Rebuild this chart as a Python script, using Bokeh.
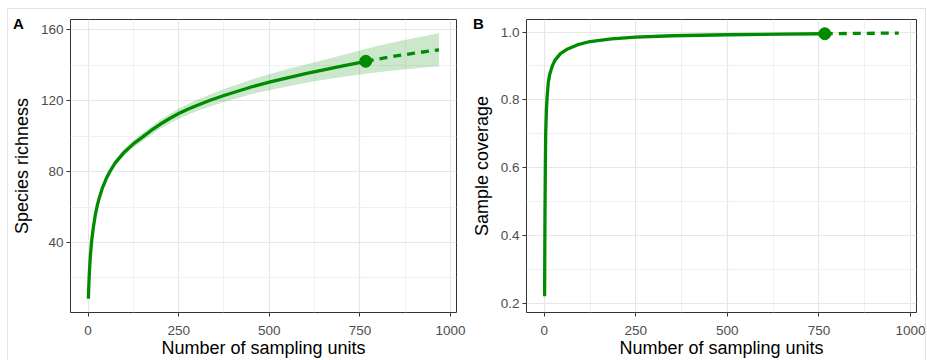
from bokeh.plotting import figure
from bokeh.layouts import row
from bokeh.models import Range1d, FixedTicker, PrintfTickFormatter, Div
from bokeh.embed import file_html
from bokeh.resources import INLINE

# ---------------- data: panel A (species richness) ----------------
units_obs_a = [1, 2, 3, 5, 7, 10, 15, 20, 25, 30, 40, 50, 60, 75, 100, 125, 150, 175,
               200, 225, 250, 275, 300, 335, 375, 450, 500, 550, 600, 650, 700, 766]
richness_obs = [8.3, 15, 20, 28, 34, 41, 49, 55.5, 60.5, 64.5, 71, 76, 80, 85, 91,
                95.7, 99.5, 103.4, 106.9, 110.0, 112.8, 115.2, 117.4, 120.2, 123.0,
                127.8, 130.5, 133.0, 135.3, 137.5, 139.6, 142.3]
units_ext_a = [766, 800, 850, 900, 968]
richness_ext = [142.3, 143.6, 145.3, 146.9, 148.8]
band_units_a = [1, 2, 3, 5, 7, 10, 15, 20, 25, 30, 40, 50, 60, 75, 100, 125, 150,
                200, 250, 300, 375, 450, 500, 550, 625, 700, 766, 800, 850, 900, 968]
richness_lo = [8.0, 14.6, 19.5, 27.4, 33.3, 40.2, 48.1, 54.5, 59.4, 63.3, 69.7, 74.6,
               78.5, 83.3, 89.1, 93.6, 97.2, 104.3, 109.9, 114.2, 119.3, 123.7, 126.0,
               128.1, 131.0, 133.5, 135.3, 136.1, 137.3, 138.3, 139.5]
richness_hi = [8.6, 15.4, 20.5, 28.6, 34.7, 41.8, 49.9, 56.5, 61.6, 65.7, 72.3, 77.4,
               81.5, 86.7, 92.9, 97.8, 101.8, 109.5, 115.7, 120.6, 126.7, 131.9, 135.0,
               137.9, 141.8, 145.7, 149.3, 151.1, 153.3, 155.5, 158.1]
ref_point_a = ([766], [142.3])

# ---------------- data: panel B (sample coverage) ----------------
units_obs_b = [1, 2, 3, 4, 6, 8, 11, 15, 22, 30, 45, 64, 90, 125, 184, 250, 350, 500, 650, 766]
coverage_obs = [0.22, 0.45, 0.60, 0.70, 0.77, 0.81, 0.85, 0.875, 0.90, 0.918, 0.937,
                0.95, 0.962, 0.972, 0.98, 0.985, 0.989, 0.992, 0.994, 0.995]
units_ext_b = [766, 850, 968]
coverage_ext = [0.995, 0.996, 0.997]
ref_point_b = ([766], [0.995])

x_ticks = [0, 250, 500, 750, 1000]
x_minor = [125, 375, 625, 875]
ya_ticks = [40, 80, 120, 160]
ya_minor = [20, 60, 100, 140]
yb_ticks = [0.2, 0.4, 0.6, 0.8, 1.0]
yb_minor = [0.3, 0.5, 0.7, 0.9]

GREEN = "#008B00"
FONT = "Liberation Sans"
H = 360


def style(p, xt, xm, yt, ym, xlabel, ylabel):
    p.xaxis.ticker = FixedTicker(ticks=xt, minor_ticks=xm)
    p.yaxis.ticker = FixedTicker(ticks=yt, minor_ticks=ym)
    p.xgrid.ticker = FixedTicker(ticks=xt, minor_ticks=xm)
    p.ygrid.ticker = FixedTicker(ticks=yt, minor_ticks=ym)
    for g in (p.xgrid, p.ygrid):
        g.grid_line_color = "#E6E6E6"
        g.grid_line_width = 1.2
        g.minor_grid_line_color = "#F0F0F0"
        g.minor_grid_line_width = 1
    p.outline_line_color = "#333333"
    p.outline_line_width = 1
    for ax in (p.xaxis, p.yaxis):
        ax.axis_line_color = None
        ax.major_tick_line_color = "#333333"
        ax.major_tick_in = 0
        ax.major_tick_out = 4
        ax.minor_tick_line_color = None
        ax.major_label_text_color = "#4D4D4D"
        ax.major_label_text_font = FONT
        ax.major_label_text_font_size = "13.5px"
        ax.axis_label_text_font = FONT
        ax.axis_label_text_font_size = "18px"
        ax.axis_label_text_font_style = "normal"
        ax.axis_label_text_color = "#000000"
    p.xaxis.axis_label = xlabel
    p.yaxis.axis_label = ylabel
    p.xaxis.major_label_standoff = 9
    p.xaxis.axis_label_standoff = 0
    p.yaxis.major_label_standoff = 3
    p.yaxis.axis_label_standoff = 6


def letter(text, left, top):
    return Div(text=text, width=16, height=16, margin=0,
               styles={"position": "absolute", "left": f"{left}px", "top": f"{top}px",
                       "font-family": FONT, "font-size": "15px", "font-weight": "bold",
                       "color": "#000000", "z-index": "10", "line-height": "16px"})


# ---------------- panel A ----------------
pA = figure(width=468, height=H, output_backend="svg", toolbar_location=None,
            x_range=Range1d(-48.4, 1016.4), y_range=Range1d(0.5, 165.9),
            min_border_left=70, min_border_right=12, min_border_top=19, min_border_bottom=44)
style(pA, x_ticks, x_minor, ya_ticks, ya_minor, "Number of sampling units", "Species richness")
pA.varea(x=band_units_a, y1=richness_lo, y2=richness_hi, fill_color=GREEN, fill_alpha=0.2)
pA.line(units_obs_a, richness_obs, line_color=GREEN, line_width=3.3)
pA.line(units_ext_a, richness_ext, line_color=GREEN, line_width=3.3, line_dash="8 6")
pA.scatter(ref_point_a[0], ref_point_a[1], size=12, fill_color=GREEN, line_color=GREEN)

# ---------------- panel B ----------------
pB = figure(width=458, height=H, output_backend="svg", toolbar_location=None,
            x_range=Range1d(-48.4, 1016.4), y_range=Range1d(0.172, 1.037),
            min_border_left=56, min_border_right=10, min_border_top=19, min_border_bottom=44)
style(pB, x_ticks, x_minor, yb_ticks, yb_minor, "Number of sampling units", "Sample coverage")
pB.yaxis.formatter = PrintfTickFormatter(format="%.1f")
pB.line(units_obs_b, coverage_obs, line_color=GREEN, line_width=3.3)
pB.line(units_ext_b, coverage_ext, line_color=GREEN, line_width=3.3, line_dash="8 6")
pB.scatter(ref_point_b[0], ref_point_b[1], size=12, fill_color=GREEN, line_color=GREEN)

frame_box = Div(text="", width=919, height=400, margin=0,
                styles={"position": "absolute", "left": "7px", "top": "8px",
                        "border": "1px solid #E2E2E2", "box-sizing": "border-box",
                        "pointer-events": "none", "z-index": "5"})

layout = row(frame_box, letter("A", 13, 16), letter("B", 473, 16), pA, pB, spacing=0)

open("out.html", "w").write(file_html(layout, INLINE))
